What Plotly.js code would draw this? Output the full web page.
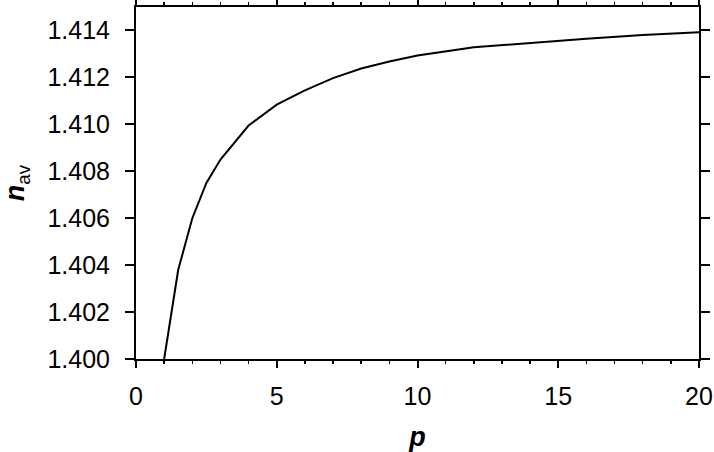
<!DOCTYPE html>
<html>
<head>
<meta charset="utf-8">
<script src="https://cdn.plot.ly/plotly-3.0.1.min.js"></script>
<style>
html,body{margin:0;padding:0;background:#fff;}
#chart{width:714px;height:452px;}
</style>
</head>
<body>
<div id="chart"></div>
<script>
const p = [1, 1.5, 2, 2.5, 3, 3.5, 4, 5, 6, 7, 8, 9, 10, 12, 14, 16, 18, 20];
const nAv = [1.4000, 1.4038, 1.4060, 1.4075, 1.4085, 1.40925, 1.40995, 1.41084, 1.41145, 1.41197, 1.41238, 1.41268, 1.41293, 1.41328, 1.41348, 1.41365, 1.41381, 1.41392];
const xTickVals = [0, 5, 10, 15, 20];
const yTickVals = [1.400, 1.402, 1.404, 1.406, 1.408, 1.410, 1.412, 1.414];
const yTickText = ['1.400', '1.402', '1.404', '1.406', '1.408', '1.410', '1.412', '1.414'];

const font = 'Liberation Sans, Arial, Helvetica, sans-serif';

const trace = {
  x: p, y: nAv, type: 'scatter', mode: 'lines',
  line: {color: '#000', width: 2},
  hoverinfo: 'skip'
};

const layout = {
  width: 714, height: 452,
  margin: {l: 136, r: 15, t: 7, b: 93, pad: 0},
  paper_bgcolor: '#fff', plot_bgcolor: '#fff',
  showlegend: false,
  font: {family: font, color: '#000', size: 25},
  xaxis: {
    range: [0, 20],
    tickvals: xTickVals,
    ticktext: xTickVals.map(String),
    ticks: 'outside', ticklen: 7, tickwidth: 2, tickcolor: '#000',
    minor: {dtick: 1, ticks: 'outside', ticklen: 3, tickwidth: 1.5, tickcolor: '#000'},
    showline: true, linewidth: 2, linecolor: '#000', mirror: 'ticks',
    showgrid: false, zeroline: false,
    tickfont: {family: font, size: 25, color: '#000'},
    ticklabelstandoff: 7,
    title: {text: '<b><i>p</i></b>', font: {family: font, size: 27, color: '#000'}, standoff: 24}
  },
  yaxis: {
    range: [1.400, 1.415],
    tickvals: yTickVals,
    ticktext: yTickText,
    ticks: 'outside', ticklen: 9, tickwidth: 2, tickcolor: '#000',
    showline: true, linewidth: 2, linecolor: '#000', mirror: 'ticks',
    showgrid: false, zeroline: false,
    tickfont: {family: font, size: 25, color: '#000'},
    ticklabelstandoff: 10,
    title: {text: '<b><i>n</i></b><sub>av</sub>', font: {family: font, size: 27, color: '#000'}, standoff: 16}
  }
};

Plotly.newPlot('chart', [trace], layout, {staticPlot: true, displayModeBar: false});
</script>
</body>
</html>
